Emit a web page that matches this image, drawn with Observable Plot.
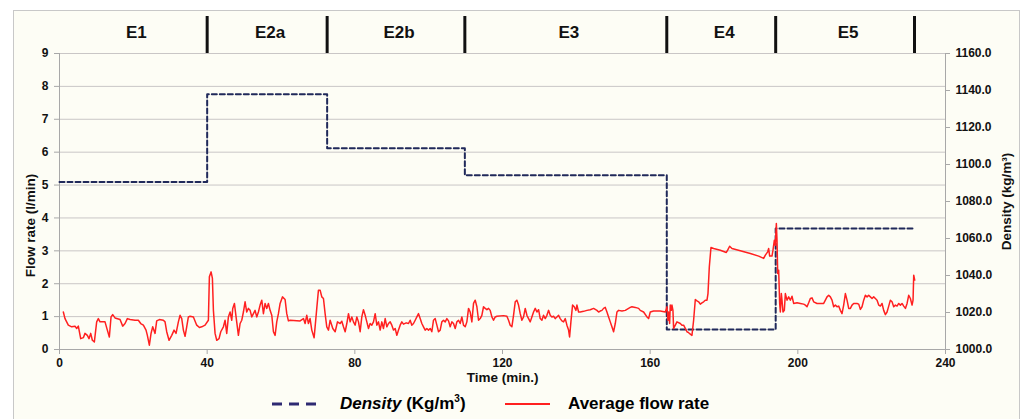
<!DOCTYPE html>
<html>
<head>
<meta charset="utf-8">
<script src="https://cdn.jsdelivr.net/npm/d3@7"></script>
<script src="https://cdn.jsdelivr.net/npm/@observablehq/plot@0.6"></script>
<style>
  html, body { margin: 0; padding: 0; background: #ffffff; overflow: hidden; }
  #wrap { position: relative; width: 1024px; height: 419px; font-family: "Liberation Sans", Arial, sans-serif; }
  #panel { position: absolute; left: 13px; top: 10px; width: 1005px; height: 430px; border: 1px solid #c8c8c8; background: #fdfdf5; }
  #chart { position: absolute; left: 0; top: 0; }
  #legend { position: absolute; left: 0; top: 390px; width: 1024px; height: 29px; font-weight: bold; font-size: 17px; color: #000; }
  #legend .it { position: absolute; top: 3px; white-space: nowrap; line-height: 22px; }
  #legend sup { font-size: 10px; line-height: 0; vertical-align: 7px; }
  #legend svg { position: absolute; }
</style>
</head>
<body>
<div id="wrap">
  <div id="panel"></div>
  <div id="chart"></div>
  <div id="legend"></div>
</div>
<script>
// ---- data ----
const stages = ["E1", "E2a", "E2b", "E3", "E4", "E5"];
const stageBounds = [0, 40, 72.5, 109.8, 164.5, 194, 231.6];
const densityValues = [1090.6, 1138, 1108.8, 1094.2, 1010.8, 1065.4];
const timeTicks = [0, 40, 80, 120, 160, 200, 240];
const flowTicks = [0, 1, 2, 3, 4, 5, 6, 7, 8, 9];
const densityTicks = [1000, 1020, 1040, 1060, 1080, 1100, 1120, 1140, 1160];
// [time (min), average flow rate (l/min)]
const flowSeries = [
[1.04,1.14],[1.49,0.94],[2.39,0.74],[3.30,0.69],[4.20,0.71],[4.65,0.64],[5.10,0.71],[5.74,0.33],[6.46,0.36],[6.91,0.49],[7.54,0.43],[7.99,0.33],[8.45,0.49],[8.90,0.28],[9.44,0.23],[10.07,0.84],[10.52,0.94],[10.98,0.84],[12.33,0.84],[12.96,0.59],[13.50,0.38],[13.96,0.99],[14.41,1.06],[15.04,0.96],[16.40,0.91],[17.12,0.71],[17.75,0.79],[18.38,0.94],[19.11,0.91],[20.46,0.89],[21.36,0.89],[22.00,0.79],[22.72,0.74],[23.44,0.59],[23.80,0.43],[24.34,0.13],[24.80,0.49],[25.25,0.69],[25.88,0.49],[26.33,0.87],[27.05,0.91],[28.14,0.89],[28.59,0.84],[29.04,0.54],[29.67,0.28],[30.40,0.43],[31.03,0.59],[31.57,0.49],[32.20,0.84],[32.66,1.04],[33.11,0.94],[33.56,0.59],[34.01,0.40],[34.46,0.69],[34.91,0.99],[35.37,1.01],[36.27,0.99],[37.17,0.74],[37.90,0.67],[38.53,0.69],[39.43,0.74],[40.33,0.89],[40.60,2.21],[41.06,2.36],[41.42,2.16],[41.69,1.19],[42.14,0.49],[42.59,0.28],[43.22,0.33],[43.68,0.54],[44.40,0.69],[44.85,0.89],[45.30,0.49],[45.75,0.99],[46.21,1.14],[46.66,0.89],[46.93,1.25],[47.38,1.40],[47.83,0.99],[48.46,0.43],[48.92,0.79],[49.37,0.89],[49.82,1.14],[50.27,1.45],[50.72,1.14],[51.17,1.25],[51.63,1.19],[52.08,0.99],[52.53,1.09],[52.98,1.19],[53.43,0.99],[53.88,1.14],[54.34,1.35],[54.79,1.50],[55.24,1.09],[55.69,1.40],[56.14,1.25],[56.59,1.40],[57.05,1.19],[57.50,1.04],[57.95,0.54],[58.40,0.43],[58.85,0.84],[59.30,1.09],[59.76,1.40],[60.39,1.60],[61.11,1.52],[61.56,1.09],[62.01,0.87],[62.47,0.89],[65.18,0.87],[66.08,0.94],[66.53,0.79],[66.98,1.04],[67.43,0.79],[67.88,0.94],[68.34,0.59],[68.97,0.36],[69.24,0.69],[69.69,1.25],[70.14,1.80],[70.60,1.80],[71.05,1.60],[71.50,1.55],[71.95,1.09],[72.40,0.69],[72.86,0.59],
[73.31,0.89],[74.03,0.64],[74.67,0.54],[75.30,0.84],[76.02,0.79],[76.47,0.86],[76.92,0.69],[77.38,0.54],[77.83,0.79],[78.28,1.09],[78.73,0.84],[79.18,0.99],[79.63,0.84],[80.09,0.74],[80.54,0.99],[80.99,0.84],[81.44,0.54],[81.89,0.99],[82.34,1.21],[82.80,1.04],[83.25,0.84],[83.70,0.64],[84.15,0.79],[84.60,0.74],[85.05,0.84],[85.51,1.09],[85.96,0.74],[86.41,0.84],[86.86,0.59],[87.31,0.84],[87.76,0.64],[88.22,0.94],[88.67,0.69],[89.12,0.79],[89.57,0.84],[90.02,0.74],[90.47,0.59],[90.93,0.64],[91.38,0.43],[91.83,0.59],[92.28,0.74],[92.73,0.84],[93.18,0.77],[93.91,0.81],[94.54,0.79],[94.99,0.89],[95.44,0.74],[95.89,0.79],[96.35,0.89],[96.80,0.99],[97.25,1.09],[97.70,0.94],[98.15,0.79],[98.60,0.69],[99.06,0.59],[99.51,0.64],[99.96,0.59],[100.41,0.64],[100.86,0.54],[101.31,0.89],[101.77,0.94],[102.22,0.74],[102.67,0.54],[103.12,0.59],[103.57,0.84],[104.02,0.89],[104.48,0.84],[104.93,0.94],[105.38,0.87],[105.83,0.69],[106.28,0.84],[106.73,0.79],[107.19,0.64],[107.64,0.84],[108.09,0.89],[108.54,0.79],[108.99,0.99],[109.44,0.74],[109.90,0.69],[110.35,0.84],[110.80,1.25],[111.25,1.14],[111.70,0.84],[112.15,1.40],[112.61,1.50],[113.06,1.30],[113.51,0.89],[113.96,0.94],[114.41,1.04],[114.86,1.30],[115.32,1.25],[115.77,1.21],[116.22,1.25],[116.67,1.19],[117.12,0.99],[117.57,0.89],[118.03,0.99],[118.48,1.01],[120.28,1.03],[121.19,1.01],[121.64,0.89],[122.09,0.74],[122.54,0.69],[122.99,1.04],[123.45,1.45],[123.90,1.50],[124.35,1.35],[124.80,1.09],[125.25,0.89],[125.70,0.99],[126.16,1.25],[126.61,1.04],[127.06,0.94],[127.51,0.84],[127.96,0.99],[128.41,1.14],[128.87,1.25],[129.32,1.14],[129.77,1.21],[130.22,0.94],[130.67,0.89],[131.12,1.04],[131.58,0.94],[132.03,1.04],[132.48,1.19],[132.93,1.04],[133.38,0.99],[133.83,1.01],[134.29,0.94],[134.74,0.99],[135.19,1.04],[135.64,0.94],[136.09,0.87],[136.54,0.84],[137.00,0.94],[137.45,0.74],[137.90,0.59],[138.17,0.38],[138.53,0.84],[138.98,1.35],[139.43,1.30],[139.89,1.19],[140.16,1.35],[140.61,1.14],[141.06,1.14],[141.96,1.16],[142.87,1.19],[143.77,1.21],[144.67,1.25],[145.58,1.19],[146.03,1.14],[146.48,1.17],[146.93,1.19],[147.38,1.25],[147.84,1.28],[148.29,1.14],[148.74,0.99],[149.19,0.84],[149.64,0.69],[150.09,0.54],[150.55,0.79],[151.00,1.14],[151.45,1.19],[152.35,1.17],[153.26,1.19],[154.16,1.25],[154.61,1.28],[155.06,1.30],[155.97,1.28],[156.87,1.25],
[157.32,1.19],[158.22,1.14],[159.13,0.99],[159.58,0.94],[160.03,1.14],[160.93,1.17],[162.74,1.17],[164.10,1.14],[164.55,1.30],[164.82,0.89],[165.00,1.14],[165.27,0.79],[165.45,1.35],[165.72,1.19],[165.90,1.35],[166.17,1.19],[166.35,0.64],[166.81,0.74],[167.26,0.84],[168.16,0.79],[168.61,0.74],[169.06,0.74],[169.52,0.64],[169.97,0.54],[170.42,0.51],[170.87,0.47],[171.32,0.43],[171.77,0.89],[172.23,1.52],[172.68,1.48],[173.13,1.45],[173.58,1.38],[174.03,1.42],[174.48,1.45],[174.94,1.50],[175.39,1.50],[175.66,1.70],[176.02,2.51],[176.47,3.10],[177.19,3.07],[179.00,3.02],[180.63,2.95],[180.99,3.02],[181.53,3.14],[182.16,3.07],[184.42,3.00],[187.13,2.92],[189.39,2.84],[190.74,2.77],[191.20,2.87],[191.83,2.97],[192.10,3.07],[192.37,2.84],[193.00,2.84],[193.27,3.02],[193.63,3.32],[193.90,3.17],[194.18,3.83],[194.36,3.32],[194.54,2.31],[194.81,2.41],[195.08,1.40],[195.26,1.14],[195.53,1.70],[195.71,1.50],[195.98,1.14],[196.34,1.19],[196.62,1.70],[197.07,1.50],[197.52,1.60],[197.97,1.50],[198.42,1.62],[198.87,1.40],[199.78,1.42],[200.68,1.40],[201.58,1.38],[202.04,1.35],[202.49,1.30],[202.94,1.42],[203.39,1.55],[203.84,1.57],[204.29,1.45],[205.20,1.40],[206.10,1.40],[207.00,1.40],[207.46,1.50],[207.91,1.60],[208.36,1.65],[208.81,1.60],[209.26,1.50],[209.71,1.30],[210.17,1.35],[210.62,1.30],[211.07,1.32],[211.52,1.19],[211.97,1.09],[212.42,1.35],[212.88,1.70],[213.33,1.50],[213.78,1.25],[214.23,1.25],[214.68,1.35],[215.13,1.40],[216.04,1.40],[216.49,1.38],[216.94,1.22],[217.39,1.30],[217.84,1.50],[218.30,1.65],[218.75,1.60],[219.20,1.65],[219.65,1.60],[220.10,1.55],[220.55,1.60],[221.01,1.55],[221.46,1.50],[221.91,1.35],[222.36,1.32],[222.81,1.40],[223.26,1.19],[223.72,1.06],[224.17,1.14],[224.62,1.32],[225.07,1.50],[225.52,1.45],[225.97,1.30],[226.43,1.35],[226.88,1.32],[227.33,1.40],[227.78,1.35],[228.23,1.40],[228.68,1.32],[229.14,1.25],[229.59,1.40],[230.04,1.65],[230.49,1.55],[230.94,1.35],[231.21,1.50],[231.39,2.26],[231.66,2.11]
];

// ---- helpers ----
const toFlow = d => (d - 1000) / 160 * 9;
const fromFlow = v => 1000 + v * 160 / 9;

const densitySteps = stageBounds.map((t, i) => ({t, d: densityValues[Math.min(i, densityValues.length - 1)]}));
const stageLabels = stages.map((s, i) => ({s, t: (stageBounds[i] + stageBounds[i + 1]) / 2}));
const dividers = stageBounds.slice(1);

const chart = Plot.plot({
  width: 1024,
  height: 390,
  marginLeft: 59,
  marginRight: 79,
  marginTop: 53,
  marginBottom: 41,
  style: {background: "transparent", fontFamily: "'Liberation Sans', Arial, sans-serif", fontSize: "12px", fontWeight: "bold", overflow: "visible", color: "#000"},
  x: {domain: [0, 240]},
  y: {domain: [0, 9]},
  marks: [
    Plot.gridY(flowTicks.slice(1), {stroke: "#c9c6c6", strokeOpacity: 1, strokeWidth: 1}),
    Plot.ruleY([0], {stroke: "#a8a8a8"}),
    Plot.ruleX([0], {stroke: "#a8a8a8"}),
    Plot.ruleX([240], {stroke: "#a8a8a8"}),
    Plot.axisY(flowTicks, {anchor: "left", tickSize: 5, tickPadding: 6, stroke: "#a8a8a8", fill: "#111", label: null, fontSize: 12}),
    Plot.axisY(densityTicks.map(toFlow), {anchor: "right", tickSize: 4, tickPadding: 6, stroke: "#a8a8a8", fill: "#111", label: null, fontSize: 12, tickFormat: v => fromFlow(v).toFixed(1)}),
    Plot.axisX(timeTicks, {anchor: "bottom", tickSize: 5, tickPadding: 4, stroke: "#a8a8a8", fill: "#111", label: null, fontSize: 12}),
    Plot.text(["Time (min.)"], {frameAnchor: "bottom", dy: 32, fontSize: 13.5, fill: "#111"}),
    Plot.text(["Flow rate (l/min)"], {frameAnchor: "left", textAnchor: "middle", dx: -29, dy: 24, rotate: -90, fontSize: 13.5, fill: "#111"}),
    Plot.text(["Density (kg/m³)"], {frameAnchor: "right", textAnchor: "middle", dx: 61, dy: 0, rotate: -90, fontSize: 13.5, fill: "#111"}),
    // stage header
    Plot.ruleX(dividers, {x: d => d, y1: 9, y2: 9, insetTop: -37, stroke: "#111", strokeWidth: 3}),
    Plot.text(stageLabels, {x: "t", y: 9, dy: -21, dx: 3, text: "s", fontSize: 17, fill: "#111"}),
    // series
    Plot.line(densitySteps, {x: "t", y: d => toFlow(d.d), curve: "step-after", stroke: "#20295a", strokeWidth: 2, strokeDasharray: "5,3"}),
    Plot.line(flowSeries, {x: d => d[0], y: d => d[1], stroke: "#ff2020", strokeWidth: 1.5})
  ]
});
document.getElementById("chart").appendChild(chart);

// ---- legend ----
const legend = document.getElementById("legend");
legend.innerHTML = `
  <svg style="left:271px;top:8px" width="50" height="12"><line x1="1" y1="6" x2="49" y2="6" stroke="#2e2a72" stroke-width="3" stroke-dasharray="10,7"/></svg>
  <div class="it" style="left:340px"><i>Density</i> (Kg/m<sup>3</sup>)</div>
  <svg style="left:505px;top:8px" width="45" height="12"><line x1="0" y1="6" x2="45" y2="6" stroke="#ff2020" stroke-width="2"/></svg>
  <div class="it" style="left:568px">Average flow rate</div>`;
</script>
</body>
</html>
